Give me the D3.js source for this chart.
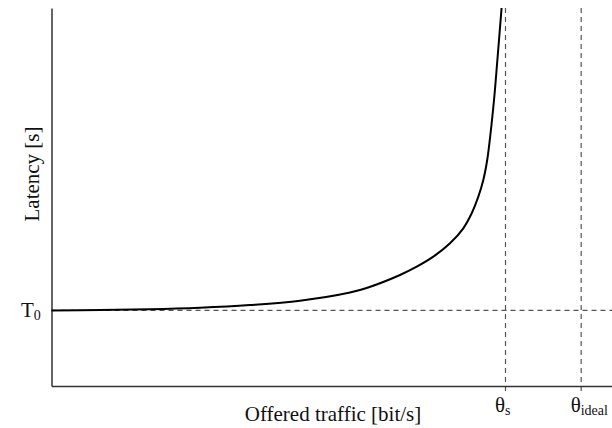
<!DOCTYPE html>
<html lang="en">
<head>
  <meta charset="utf-8">
  <title>Latency vs offered traffic</title>
  <script src="https://d3js.org/d3.v7.min.js"></script>
  <style>
    body { margin: 0; background: #fff; }
    svg text { font-family: "Liberation Serif", "Times New Roman", serif; fill: #111; }
  </style>
</head>
<body>
<svg width="612" height="428"></svg>
<script>
// curve (arbitrary units, 0..100 on both axes)
var traffic = [0, 8.65, 17.57, 26.49, 35.41, 44.33, 53.26, 56.23, 62.18, 65.16, 68.12, 71.10, 73.47, 74.97, 76.15, 77.04, 77.64, 77.98, 78.95, 79.55, 80.30];
var latency = [19.97, 20.1, 20.29, 20.71, 21.43, 22.57, 24.74, 25.93, 29.37, 31.56, 34.21, 37.75, 41.72, 45.69, 50.08, 54.50, 58.92, 62.43, 75.66, 86.24, 100];

// reference levels
var t0 = 20;
var thetaS = 81.0;
var thetaIdeal = 94.5;

var svg = d3.select("svg");

var x = d3.scaleLinear().domain([0, 100]).range([51.5, 612]);
var y = d3.scaleLinear().domain([0, 100]).range([386, 8]);

var points = traffic.map(function(d, i) { return [d, latency[i]]; });

// dashed guides first, so the curve sits on top
var dash = "5,4";
svg.append("line")
    .attr("x1", x(0)).attr("x2", x(100))
    .attr("y1", y(t0)).attr("y2", y(t0))
    .attr("stroke", "#555").attr("stroke-width", 1.2)
    .attr("stroke-dasharray", dash);

[thetaS, thetaIdeal].forEach(function(v) {
  svg.append("line")
      .attr("x1", x(v)).attr("x2", x(v))
      .attr("y1", y(100)).attr("y2", 393)
      .attr("stroke", "#555").attr("stroke-width", 1.2)
      .attr("stroke-dasharray", dash);
});

// axes without ticks
svg.append("g")
    .attr("transform", "translate(0," + y(0) + ")")
    .call(d3.axisBottom(x).tickValues([]).tickSizeOuter(0))
    .select(".domain").attr("stroke", "#333").attr("stroke-width", 1.5);

svg.append("g")
    .attr("transform", "translate(" + x(0) + ",0)")
    .call(d3.axisLeft(y).tickValues([]).tickSizeOuter(0))
    .select(".domain").attr("stroke", "#333").attr("stroke-width", 1.5);

var line = d3.line()
    .x(function(d) { return x(d[0]); })
    .y(function(d) { return y(d[1]); })
    .curve(d3.curveCatmullRom.alpha(0.5));

svg.append("path")
    .datum(points)
    .attr("d", line)
    .attr("fill", "none")
    .attr("stroke", "#000")
    .attr("stroke-width", 2);

// labels
svg.append("text")
    .attr("x", 333).attr("y", 421)
    .attr("text-anchor", "middle")
    .attr("font-size", 21)
    .text("Offered traffic [bit/s]");

svg.append("text")
    .attr("transform", "translate(39,174) rotate(-90)")
    .attr("text-anchor", "middle")
    .attr("font-size", 21)
    .text("Latency [s]");

var t0Label = svg.append("text")
    .attr("x", 21).attr("y", y(t0) + 6.5)
    .attr("font-size", 21);
t0Label.append("tspan").text("T");
t0Label.append("tspan").attr("font-size", 14).attr("dy", 3).text("0");

function thetaLabel(v, sub) {
  var t = svg.append("text")
      .attr("x", x(v) - 10.5).attr("y", 412)
      .attr("font-size", 21);
  t.append("tspan").text("θ");
  t.append("tspan").attr("font-size", 14).attr("dy", 3).text(sub);
}
thetaLabel(thetaS, "s");
thetaLabel(thetaIdeal, "ideal");
</script>
</body>
</html>
